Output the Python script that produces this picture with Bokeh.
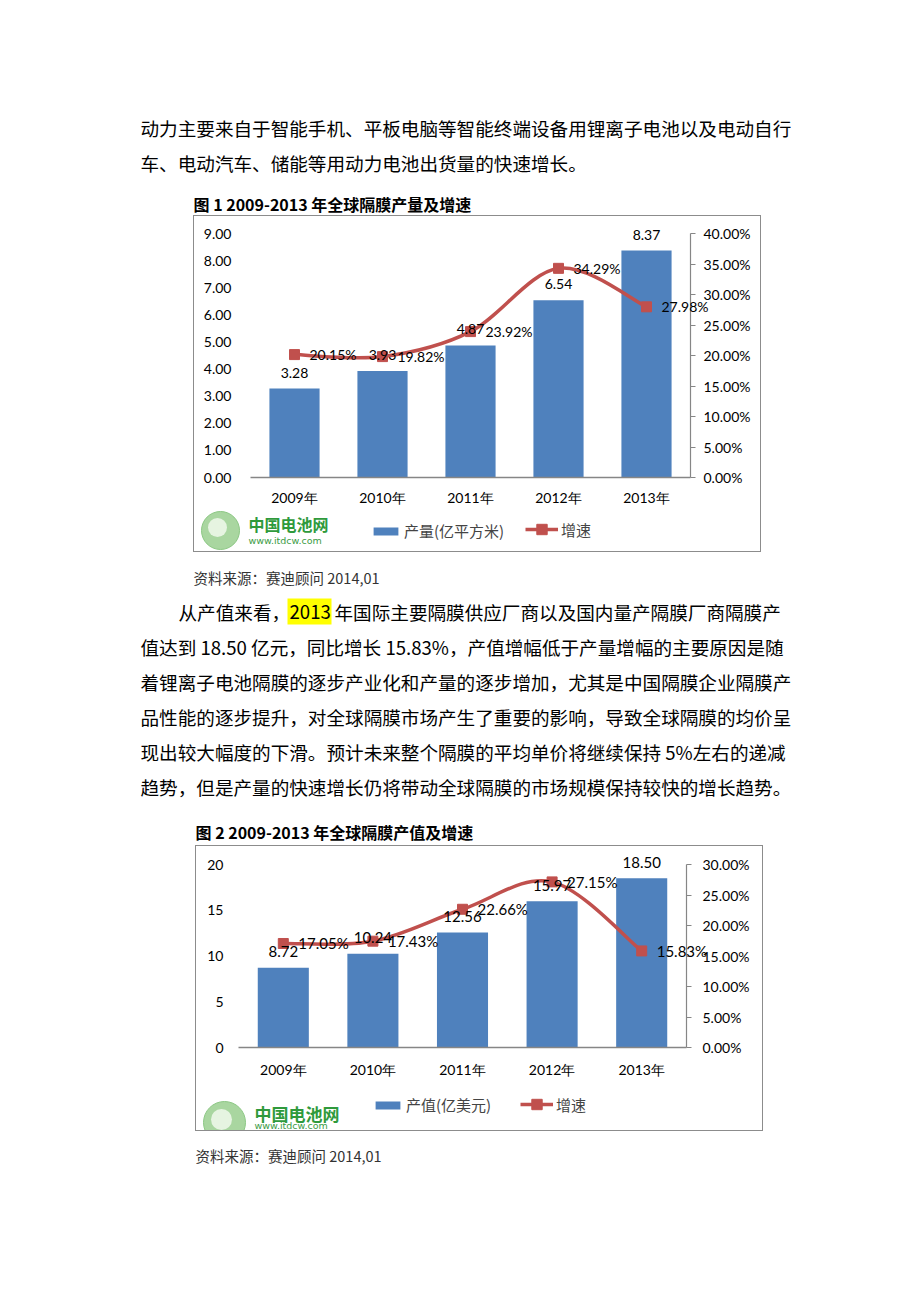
from bokeh.plotting import figure
from bokeh.models import (Range1d, LinearAxis, FixedTicker, LabelSet, ColumnDataSource,
                          Legend, LegendItem, Label, Spacer, PrintfTickFormatter)
from bokeh.layouts import column, row
from bokeh.core.properties import value
from bokeh.embed import file_html
from bokeh.resources import INLINE

# ---------------- data ----------------
years = ["2009年", "2010年", "2011年", "2012年", "2013年"]
output_area = [3.28, 3.93, 4.87, 6.54, 8.37]          # 产量(亿平方米)
output_growth = [20.15, 19.82, 23.92, 34.29, 27.98]   # 增速 %
value_usd = [8.72, 10.24, 12.56, 15.97, 18.50]        # 产值(亿美元)
value_growth = [17.05, 17.43, 22.66, 27.15, 15.83]    # 增速 %

left1_ticks = [0, 1, 2, 3, 4, 5, 6, 7, 8, 9]
right1_ticks = [0, 5, 10, 15, 20, 25, 30, 35, 40]
left2_ticks = [0, 5, 10, 15, 20]
right2_ticks = [0, 5, 10, 15, 20, 25, 30]

para1 = ["动力主要来自于智能手机、平板电脑等智能终端设备用锂离子电池以及电动自行",
         "车、电动汽车、储能等用动力电池出货量的快速增长。"]
para2_first = ["从产值来看，", "2013", "年国际主要隔膜供应厂商以及国内量产隔膜厂商隔膜产"]
para2 = ["值达到 18.50 亿元，同比增长 15.83%，产值增幅低于产量增幅的主要原因是随",
         "着锂离子电池隔膜的逐步产业化和产量的逐步增加，尤其是中国隔膜企业隔膜产",
         "品性能的逐步提升，对全球隔膜市场产生了重要的影响，导致全球隔膜的均价呈",
         "现出较大幅度的下滑。预计未来整个隔膜的平均单价将继续保持 5%左右的递减",
         "趋势，但是产量的快速增长仍将带动全球隔膜的市场规模保持较快的增长趋势。"]
title1 = "图  1 2009-2013 年全球隔膜产量及增速"
title2 = "图  2 2009-2013 年全球隔膜产值及增速"
source_txt = "资料来源：赛迪顾问  2014,01"

BLUE = "#4F81BD"
RED = "#C0504D"
GRAY = "#868686"
CJK = "Noto Sans CJK SC"
NUM = "Lato"


def smooth(xs, ys):
    n = len(xs)
    d = dict(x0=[], y0=[], x1=[], y1=[], cx0=[], cy0=[], cx1=[], cy1=[])
    for i in range(n - 1):
        a = i - 1 if i > 0 else i
        b = i + 2 if i + 2 < n else i + 1
        d["x0"].append(xs[i]); d["y0"].append(ys[i])
        d["x1"].append(xs[i + 1]); d["y1"].append(ys[i + 1])
        d["cx0"].append(xs[i] + (xs[i + 1] - xs[a]) / 6)
        d["cy0"].append(ys[i] + (ys[i + 1] - ys[a]) / 6)
        d["cx1"].append(xs[i + 1] - (xs[b] - xs[i]) / 6)
        d["cy1"].append(ys[i + 1] - (ys[b] - ys[i]) / 6)
    return d


def chart(W, H, box, ymax, pmax, lticks, rticks, lfmt, bars, growth, bar_label,
          stand, num_size, val_size, leg, logo):
    L, R, T, B = box
    n = len(years)
    xs = list(range(1, n + 1))
    ppx = (R - L) / n
    ppy = (B - T) / ymax
    ppp = (B - T) / pmax
    xr = Range1d(0.5 - L / ppx, n + 0.5 + (W - R) / ppx)
    yr = Range1d(-(H - B) / ppy, ymax + T / ppy)
    p = figure(width=W, height=H, x_range=xr, y_range=yr,
               output_backend="svg", toolbar_location=None, min_border=0,
               x_axis_location=None, y_axis_location=None,
               outline_line_color=None, background_fill_color="white",
               border_fill_color="white")
    p.extra_y_ranges = {"pct": Range1d(-(H - B) / ppp, pmax + T / ppp)}
    p.grid.visible = False
    p.styles = {"border": "1px solid #8c8c8c"}

    xa = LinearAxis(fixed_location=0, bounds=(0.5, n + 0.5), ticker=FixedTicker(ticks=xs))
    xa.major_label_overrides = {x: y for x, y in zip(xs, years)}
    xa.axis_line_color = GRAY
    xa.axis_line_width = 1.5
    xa.major_tick_line_color = None
    xa.minor_tick_line_color = None
    xa.major_label_standoff = stand[0]
    xa.major_label_text_font = NUM
    xa.major_label_text_font_size = num_size
    xa.major_label_text_color = "black"
    p.add_layout(xa, "below")

    ya = LinearAxis(fixed_location=0.5, bounds=(0, ymax), ticker=FixedTicker(ticks=lticks),
                    formatter=PrintfTickFormatter(format=lfmt))
    ya.axis_line_color = None
    ya.major_tick_line_color = None
    ya.minor_tick_line_color = None
    ya.major_label_standoff = stand[1]
    ya.major_label_text_font = NUM
    ya.major_label_text_font_size = num_size
    ya.major_label_text_color = "black"
    p.add_layout(ya, "left")

    ra = LinearAxis(y_range_name="pct", fixed_location=n + 0.5, bounds=(0, pmax),
                    ticker=FixedTicker(ticks=rticks),
                    formatter=PrintfTickFormatter(format="%.2f%%"))
    ra.axis_line_color = GRAY
    ra.axis_line_width = 1.2
    ra.major_tick_line_color = GRAY
    ra.major_tick_in = 0
    ra.major_tick_out = 5
    ra.minor_tick_line_color = None
    ra.major_label_standoff = stand[2]
    ra.major_label_text_font = NUM
    ra.major_label_text_font_size = num_size
    ra.major_label_text_color = "black"
    p.add_layout(ra, "right")

    rb = p.vbar(x=xs, top=bars, width=0.57, fill_color=BLUE, line_color=None)
    sm = p.bezier(source=ColumnDataSource(smooth(xs, growth)), x0="x0", y0="y0", x1="x1",
                  y1="y1", cx0="cx0", cy0="cy0", cx1="cx1", cy1="cy1",
                  line_color=RED, line_width=3.5, y_range_name="pct")
    mk = p.scatter(x=xs, y=growth, marker="square", size=10, fill_color=RED,
                   line_color=RED, y_range_name="pct")

    vsrc = ColumnDataSource(dict(x=xs, y=bars, t=[f"{v:.2f}" for v in bars]))
    p.add_layout(LabelSet(x="x", y="y", text="t", source=vsrc, text_align="center",
                          text_baseline="middle", y_offset=16, text_font=value(NUM),
                          text_font_size=val_size, text_color="black"))
    gsrc = ColumnDataSource(dict(x=xs, y=growth, t=[f"{v:.2f}%" for v in growth]))
    p.add_layout(LabelSet(x="x", y="y", text="t", source=gsrc, y_range_name="pct",
                          text_align="left", text_baseline="middle", x_offset=15,
                          text_font=value(NUM), text_font_size=val_size,
                          text_color="black"))

    common = dict(orientation="horizontal", padding=0, margin=0, border_line_color=None,
                  background_fill_alpha=0, label_text_font=CJK, label_text_font_size="15px",
                  label_standoff=3, label_height=18)
    p.add_layout(Legend(items=[LegendItem(label=bar_label, renderers=[rb])],
                        location=leg[0], glyph_width=31, glyph_height=10, **common))
    p.add_layout(Legend(items=[LegendItem(label="增速", renderers=[sm, mk])],
                        location=leg[1], glyph_width=33, glyph_height=26, **common))

    # logo (globe + site name), placed by pixel position inside the chart box
    gx, gy, gsize, tx, ty, wy, ts = logo
    lx = xr.start + gx / ppx
    ly = yr.start + gy / ppy
    p.scatter(x=[lx], y=[ly], marker="circle", size=gsize, fill_color="#a9d6a0",
              line_color="#8cc784", line_width=1)
    p.scatter(x=[lx - 3 / ppx], y=[ly + 3 / ppy], marker="circle", size=gsize * 0.5,
              fill_color="#e6f4e1", line_color=None)
    p.add_layout(Label(x=tx, y=ty, x_units="screen", y_units="screen", text="中国电池网",
                       text_align="left", text_baseline="middle", text_font=CJK,
                       text_font_style="bold", text_font_size=ts, text_color="#2f9a3c"))
    p.add_layout(Label(x=tx, y=wy, x_units="screen", y_units="screen", text="www.itdcw.com",
                       text_align="left", text_baseline="middle", text_font="DejaVu Sans",
                       text_font_size="9.5px", text_color="#3c9c45"))
    return p


def text_fig(top, height):
    f = figure(width=920, height=height, x_range=Range1d(0, 920),
               y_range=Range1d(top + height, top), output_backend="svg",
               toolbar_location=None, min_border=0, outline_line_color=None,
               x_axis_location=None, y_axis_location=None)
    f.grid.visible = False
    return f


BODY = dict(text_font=value(CJK), text_font_size="18.6px", text_baseline="middle",
            text_align="left", text_color="black")
TITLE = dict(text_font=value(CJK), text_font_size="16px", text_font_style="bold",
             text_baseline="middle", text_align="left", text_color="black")
SRC = dict(text_font=value(CJK), text_font_size="14.5px", text_baseline="middle",
           text_align="left", text_color="#333333")

# top text (page y 0..215)
top = text_fig(0, 215)
top.text(x=[140, 140], y=[127, 162], text=para1, **BODY)
top.text(x=[193], y=[203], text=[title1], **TITLE)

# chart 1 (outer box 193..763 x 215..554)
p1 = chart(568, 337, (56, 496, 17, 261), 9, 40, left1_ticks, right1_ticks, "%.2f",
           output_area, output_growth, "产量(亿平方米)", (5, 13, 8), "14px", "14px",
           ((176, 12), (331, 11)), (26, 23, 38, 54, 30, 13, "16px"))

# middle text (page y 554..845)
mid = text_fig(554, 291)
mid.text(x=[193], y=[577], text=[source_txt], **SRC)
mid.quad(left=[287], right=[331], top=[598], bottom=[624], fill_color="#ffff00",
         line_color=None)
mid.text(x=[178, 289, 334], y=[611, 611, 611], text=para2_first, **BODY)
mid.text(x=[140] * len(para2), y=[646, 681, 716, 751, 786], text=para2, **BODY)
mid.text(x=[195], y=[831], text=[title2], **TITLE)

# chart 2 (outer box 195..765 x 845..1133)
p2 = chart(568, 286, (42, 490, 18, 201), 20, 30, left2_ticks, right2_ticks, "%d",
           value_usd, value_growth, "产值(亿美元)", (7, 9, 11), "14px", "15px",
           ((176, 17), (324, 15)), (28, 10, 42, 58, 19, 7, "17px"))

# bottom text (page y 1133..1173)
bot = text_fig(1133, 40)
bot.text(x=[195], y=[1155], text=[source_txt], **SRC)

layout = column(top,
                row(Spacer(width=193, height=339), p1),
                mid,
                row(Spacer(width=195, height=288), p2),
                bot)

open("out.html", "w").write(file_html(layout, INLINE))
